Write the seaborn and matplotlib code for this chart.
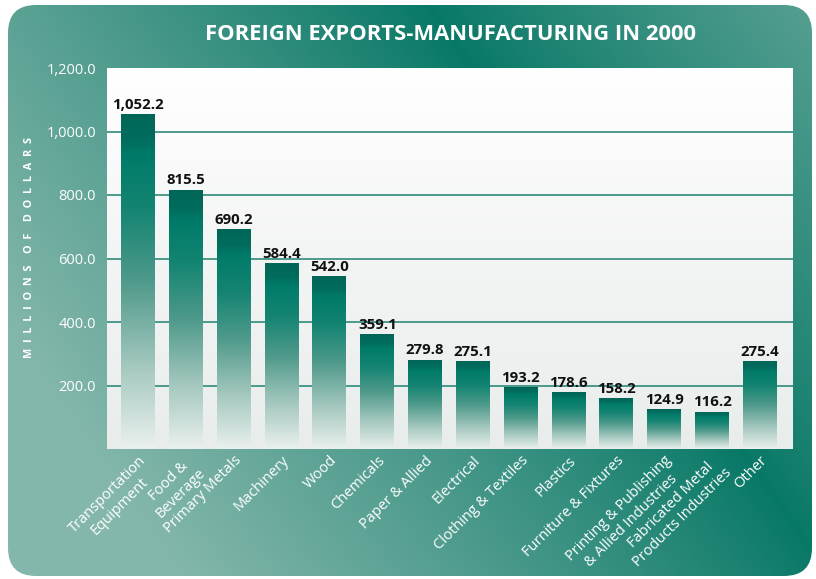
import numpy as np
import pandas as pd
import matplotlib
matplotlib.use("Agg")
import matplotlib.pyplot as plt
import seaborn as sns
from matplotlib.colors import LinearSegmentedColormap
from matplotlib.patches import FancyBboxPatch

# Exports by manufacturing sector, millions of dollars
categories = [
    "Transportation\nEquipment", "Food &\nBeverage", "Primary Metals", "Machinery",
    "Wood", "Chemicals", "Paper & Allied", "Electrical", "Clothing & Textiles",
    "Plastics", "Furniture & Fixtures", "Printing & Publishing\n& Allied Industries",
    "Fabricated Metal\nProducts Industries", "Other",
]
values = [1052.2, 815.5, 690.2, 584.4, 542.0, 359.1, 279.8, 275.1,
          193.2, 178.6, 158.2, 124.9, 116.2, 275.4]
y_ticks = [200, 400, 600, 800, 1000, 1200]
grid_values = [200, 400, 600, 800, 1000]
title = "FOREIGN EXPORTS-MANUFACTURING IN 2000"
y_words = ["MILLIONS", "OF", "DOLLARS"]

sns.set_theme(style="white")
plt.rcParams["font.family"] = ["Open Sans", "DejaVu Sans"]

W, H = 816, 579
fig = plt.figure(figsize=(W / 100, H / 100), dpi=100, facecolor="white")

# ---- teal rounded panel behind everything ----
bg = fig.add_axes([0, 0, 1, 1], zorder=0)
bg.axis("off")
yy, xx = np.mgrid[0:H, 0:W]
xn, yn = xx / W, yy / H
d = xn - 0.52 - 0.5 * yn
t = np.clip(np.abs(d) * 1.25, 0, 1) ** 0.9
dark = np.array([8, 120, 102]) / 255
light = np.array([132, 183, 171]) / 255
panel_img = dark + (light - dark) * t[..., None]
panel = FancyBboxPatch((8, 5), 804, 571, boxstyle="round,pad=0,rounding_size=28",
                       fc="none", ec="none")
bg.add_patch(panel)
im = bg.imshow(panel_img, extent=(0, W, H, 0), aspect="auto", zorder=0,
               interpolation="bilinear")
im.set_clip_path(panel)

# plot area: white fading to pale grey
area_cmap = LinearSegmentedColormap.from_list("area", ["#ffffff", "#f3f5f4", "#e8edeb"])
bg.imshow(np.linspace(0, 1, 256)[:, None], cmap=area_cmap, vmin=0, vmax=1,
          extent=(107, 793, 449, 68), aspect="auto", zorder=1)
bg.set_xlim(0, W)
bg.set_ylim(H, 0)

# ---- bar chart ----
ax = fig.add_axes([107 / W, 1 - 449 / H, 686 / W, 381 / H], zorder=1)
ax.set_facecolor("none")
df = pd.DataFrame({"category": categories, "value": values})
sns.barplot(data=df, x="category", y="value", ax=ax, width=0.71,
            color="#007a69", saturation=1, zorder=3)

bar_cmap = LinearSegmentedColormap.from_list("bar", [
    (0.0, "#eaf0ee"), (0.25, "#a3c7be"), (0.5, "#4f9a8b"), (0.72, "#148472"),
    (0.88, "#007b69"), (0.93, "#006c5d"), (1.0, "#006658")])
grad = np.linspace(1, 0, 256)[:, None]
for patch, v in zip(ax.patches, values):
    x0 = patch.get_x()
    w = patch.get_width()
    h = patch.get_height()
    patch.set_visible(False)
    ax.imshow(grad, cmap=bar_cmap, vmin=0, vmax=1, extent=(x0, x0 + w, 0, h),
              origin="upper", aspect="auto", zorder=3, interpolation="bilinear")
    ax.annotate(f"{v:,.1f}", (x0 + w / 2, h), xytext=(0, 2), textcoords="offset points",
                ha="center", va="bottom", fontsize=10.8, fontweight="bold",
                color="#111111", zorder=4)

for g in grid_values:
    ax.axhline(g, color="#2f8a7a", lw=1.2, zorder=2)

ax.set_xlim(-0.65, len(values) - 1 + 0.69)
ax.set_ylim(0, 1200)
ax.set_yticks(y_ticks)
ax.set_yticklabels([f"{v:,.1f}" for v in y_ticks], color="white", fontsize=10.5)
ax.set_xticks(range(len(categories)))
ax.set_xticklabels(categories, rotation=45, ha="right", rotation_mode="anchor",
                   color="white", fontsize=10.5, multialignment="center")
ax.tick_params(axis="y", length=0, pad=8)
ax.tick_params(axis="x", length=0, pad=3)
ax.set_xlabel("")
ax.set_ylabel("")
for s in ax.spines.values():
    s.set_visible(False)
ax.grid(False)

# letter-spaced axis title
y_title = "    ".join("  ".join(word) for word in y_words)
fig.text(30 / W, 1 - 248 / H, y_title, rotation=90, color="white", fontsize=7.8,
         fontweight="bold", ha="center", va="center")
fig.text(450 / W, 1 - 34 / H, title, ha="center", va="center", color="white",
         fontsize=15.8, fontweight="bold")

fig.savefig("out.png", dpi=100, facecolor="white")
